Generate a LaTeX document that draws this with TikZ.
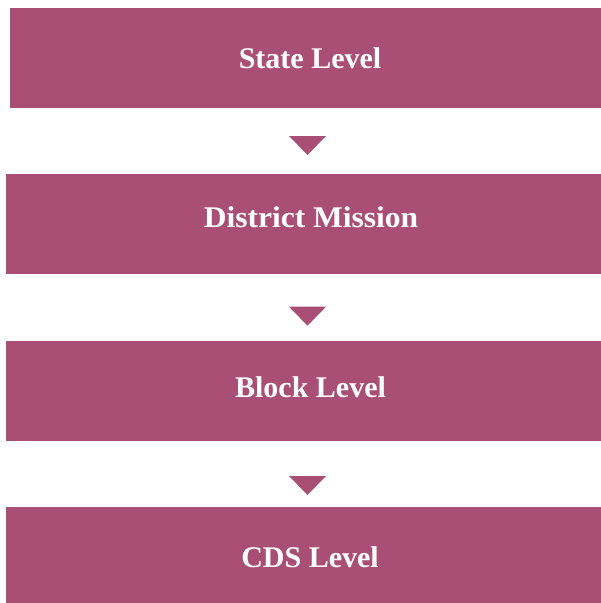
\documentclass[tikz,border=0pt]{standalone}
\usepackage{fontspec}
\setmainfont{Liberation Serif}
\usetikzlibrary{calc}
\definecolor{plum}{RGB}{169,79,117}
\tikzset{
  level/.style={fill=plum,minimum height=100pt,inner sep=0pt},
  caption/.style={text=white,font=\bfseries\fontsize{30}{36}\selectfont,
    anchor=base,inner sep=0pt},
  tip/.style={fill=plum}
}
\begin{document}
\begin{tikzpicture}[x=1pt,y=1pt]
  \useasboundingbox (0,0) rectangle (601,-603);
  % the four levels, top to bottom
  \node[level,minimum width=591pt] (state) at (305.5,-58) {};
  \node[level,minimum width=595pt] (district) at (303.5,-224) {};
  \node[level,minimum width=595pt] (block) at (303.5,-391) {};
  \node[level,minimum width=595pt,minimum height=96pt] (cds) at (303.5,-555) {};
  \node[caption] (stateT) at (310,-68) {State Level};
  \node[caption,xscale=1.05] (districtT) at (311,-227.7) {District Mission};
  \node[caption] (blockT) at (310.5,-397.3) {Block Level};
  \node[caption] (cdsT) at (310,-567.3) {CDS Level};
  % small down triangles between the levels
  \foreach \y in {136,306.7,476}{
    \fill[tip] (289,-\y) -- (326,-\y) -- (307.5,-\y-19) -- cycle;
  }
\end{tikzpicture}
\end{document}
